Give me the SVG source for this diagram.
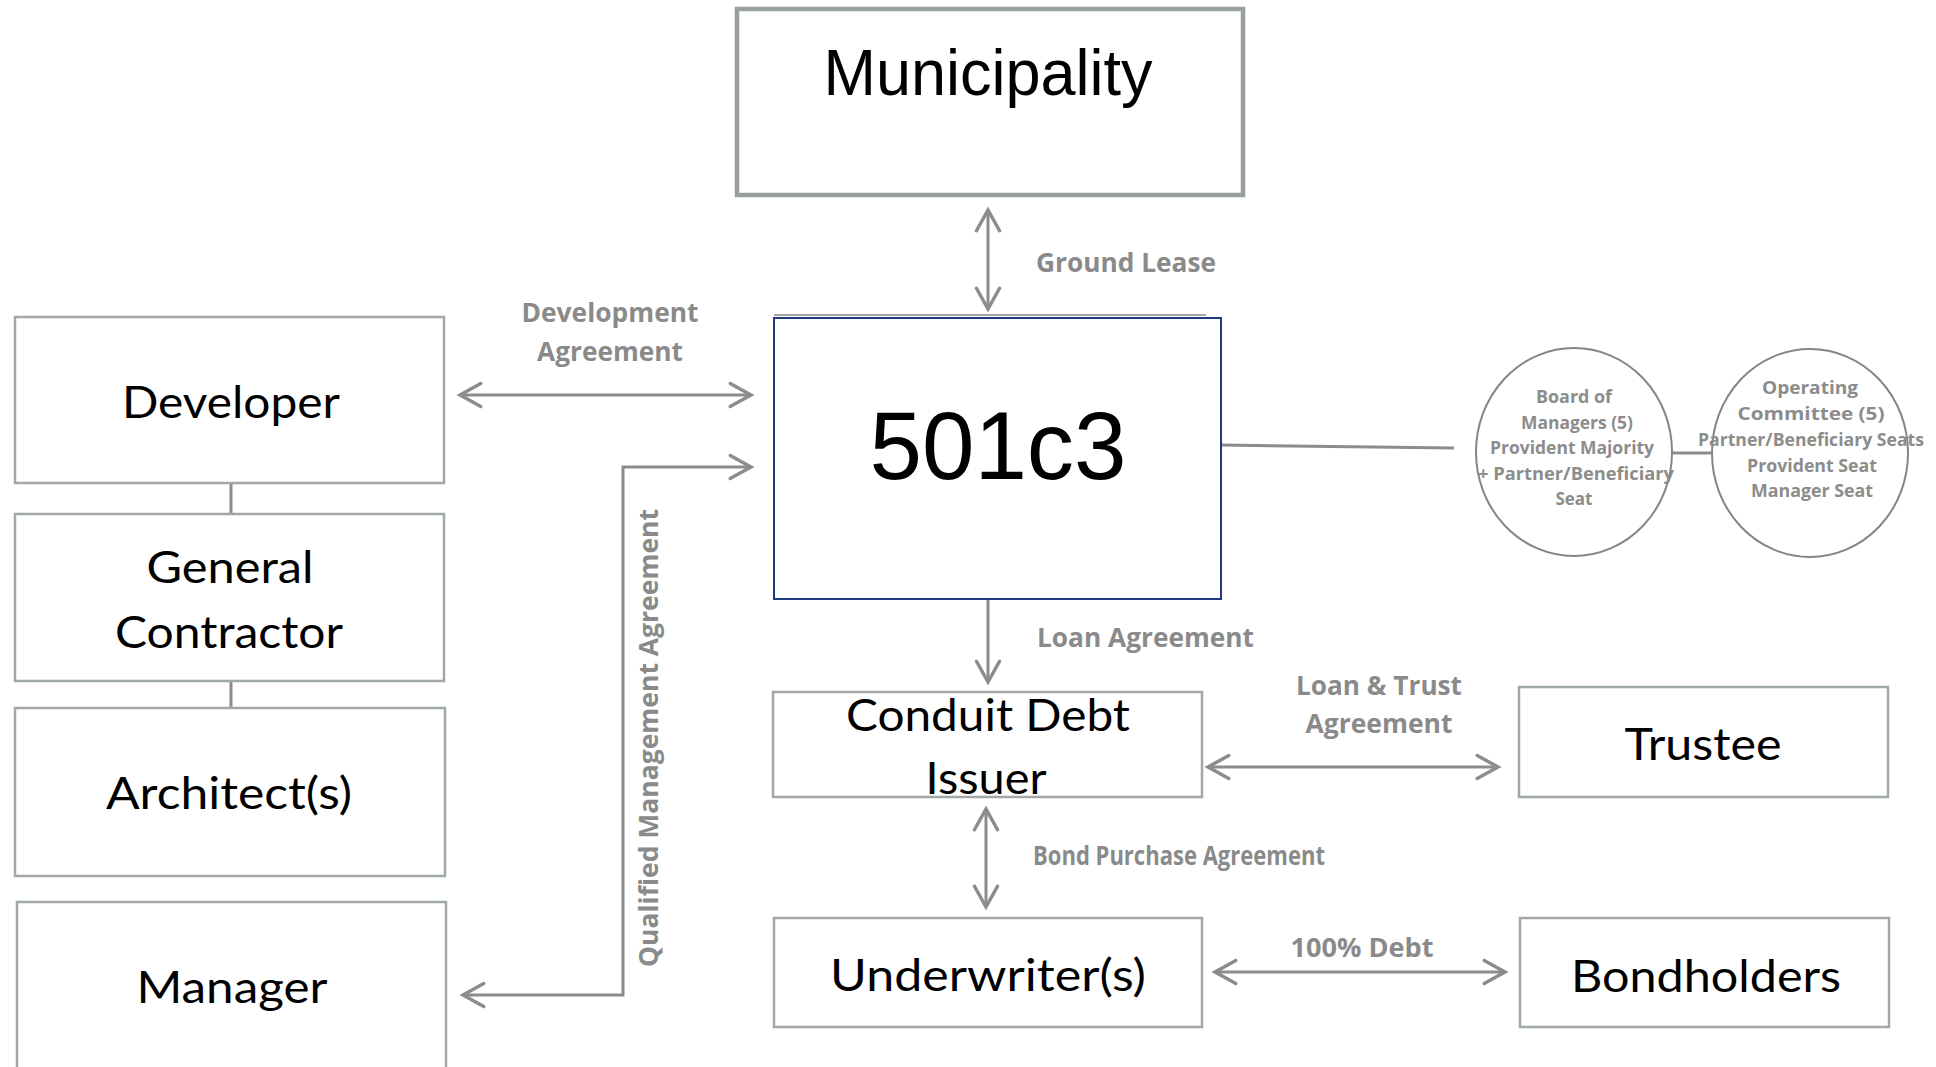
<svg xmlns="http://www.w3.org/2000/svg" width="1936" height="1067" viewBox="0 0 1936 1067">
<style>
.box{fill:#ffffff;stroke:#a0a8a8;stroke-width:2.5}
.nt{font-family:Lato,"Liberation Sans",sans-serif;font-size:44px;fill:#000;text-anchor:middle}
.big{font-family:"Liberation Sans",Arial,sans-serif;fill:#000;text-anchor:middle}
.lbl{font-family:"Open Sans",Lato,sans-serif;font-weight:bold;font-size:27.5px;fill:#8a8a8a}
.ct{font-family:"Open Sans",Lato,sans-serif;font-weight:bold;font-size:17.5px;fill:#8c8c8c;text-anchor:middle}
.arr{fill:none;stroke:#8c8c8c;stroke-width:3}
.ln{fill:none;stroke:#8c8c8c;stroke-width:3}
.circ{fill:#ffffff;stroke:#858585;stroke-width:2}
</style>
<defs>
<marker id="ah" markerUnits="userSpaceOnUse" markerWidth="30" markerHeight="30" viewBox="-22 -13 26 26" refX="0" refY="0" orient="auto-start-reverse">
<path d="M-18,-10 L0,0 L-18,10" fill="none" stroke="#8c8c8c" stroke-width="3" stroke-linecap="round" stroke-linejoin="miter"/>
</marker>
</defs>
<rect width="1936" height="1067" fill="#ffffff"/>

<g id="connectors">
<path class="arr" d="M988,210 L988,309" marker-start="url(#ah)" marker-end="url(#ah)"/>
<path class="arr" d="M460,395 L751,395" marker-start="url(#ah)" marker-end="url(#ah)"/>
<path class="arr" d="M751,467 L623,467 L623,995 L463,995" marker-start="url(#ah)" marker-end="url(#ah)"/>
<path class="arr" d="M988,600 L988,682" marker-end="url(#ah)"/>
<path class="arr" d="M1208,767 L1498,767" marker-start="url(#ah)" marker-end="url(#ah)"/>
<path class="arr" d="M986,809 L986,907" marker-start="url(#ah)" marker-end="url(#ah)"/>
<path class="arr" d="M1215,972 L1505,972" marker-start="url(#ah)" marker-end="url(#ah)"/>
<path class="ln" d="M231,483 L231,514"/>
<path class="ln" d="M231,681 L231,708"/>
<path class="ln" d="M1221,445 L1454,448"/>
<path class="ln" d="M1672,453 L1712,453" stroke-width="4"/>
<text class="lbl" x="1036" y="272" textLength="180" lengthAdjust="spacingAndGlyphs">Ground Lease</text>
<text class="lbl" x="610" y="322" text-anchor="middle" textLength="177" lengthAdjust="spacingAndGlyphs">Development</text>
<text class="lbl" x="610" y="361" text-anchor="middle" textLength="146" lengthAdjust="spacingAndGlyphs">Agreement</text>
<text class="lbl" transform="translate(658,738) rotate(-90)" x="0" y="0" text-anchor="middle" textLength="458" lengthAdjust="spacingAndGlyphs">Qualified Management Agreement</text>
<text class="lbl" x="1037" y="647" textLength="217" lengthAdjust="spacingAndGlyphs">Loan Agreement</text>
<text class="lbl" x="1379" y="695" text-anchor="middle" textLength="166" lengthAdjust="spacingAndGlyphs">Loan &amp; Trust</text>
<text class="lbl" x="1379" y="733" text-anchor="middle" textLength="147" lengthAdjust="spacingAndGlyphs">Agreement</text>
<text class="lbl" x="1033" y="865" font-size="21" textLength="292" lengthAdjust="spacingAndGlyphs">Bond Purchase Agreement</text>
<text class="lbl" x="1362" y="957" text-anchor="middle" textLength="143" lengthAdjust="spacingAndGlyphs">100% Debt</text>
</g>

<g id="municipality">
<rect x="737" y="9" width="506" height="186" fill="#ffffff" stroke="#989f9f" stroke-width="4.5"/>
<text class="big" x="988" y="95" font-size="64" textLength="329" lengthAdjust="spacingAndGlyphs">Municipality</text>
</g>

<g id="n501c3">
<line x1="774" y1="315" x2="1206" y2="315" stroke="#a0a8a8" stroke-width="2"/>
<rect x="774" y="318" width="447" height="281" fill="#ffffff" stroke="#1f3a7e" stroke-width="2"/>
<text class="big" x="998" y="479" font-size="97" textLength="257" lengthAdjust="spacingAndGlyphs">501c3</text>
</g>

<g id="developer">
<rect class="box" x="15" y="317" width="429" height="166"/>
<text class="nt" x="231" y="418" textLength="218" lengthAdjust="spacingAndGlyphs">Developer</text>
</g>

<g id="general-contractor">
<rect class="box" x="15" y="514" width="429" height="167"/>
<text class="nt" x="230" y="583" textLength="167" lengthAdjust="spacingAndGlyphs">General</text>
<text class="nt" x="229" y="648" textLength="228" lengthAdjust="spacingAndGlyphs">Contractor</text>
</g>

<g id="architects">
<rect class="box" x="15" y="708" width="430" height="168"/>
<text class="nt" x="229" y="809" textLength="246" lengthAdjust="spacingAndGlyphs">Architect(s)</text>
</g>

<g id="manager">
<rect class="box" x="17" y="902" width="429" height="190"/>
<text class="nt" x="232" y="1003" textLength="191" lengthAdjust="spacingAndGlyphs">Manager</text>
</g>

<g id="conduit-debt-issuer">
<rect class="box" x="773" y="692" width="429" height="105"/>
<text class="nt" x="988" y="731" textLength="284" lengthAdjust="spacingAndGlyphs">Conduit Debt</text>
<text class="nt" x="986" y="794" textLength="121" lengthAdjust="spacingAndGlyphs">Issuer</text>
</g>

<g id="trustee">
<rect class="box" x="1519" y="687" width="369" height="110"/>
<text class="nt" x="1703" y="760" textLength="157" lengthAdjust="spacingAndGlyphs">Trustee</text>
</g>

<g id="underwriters">
<rect class="box" x="774" y="918" width="428" height="109"/>
<text class="nt" x="988" y="991" textLength="316" lengthAdjust="spacingAndGlyphs">Underwriter(s)</text>
</g>

<g id="bondholders">
<rect class="box" x="1520" y="918" width="369" height="109"/>
<text class="nt" x="1706" y="992" textLength="270" lengthAdjust="spacingAndGlyphs">Bondholders</text>
</g>

<g id="board-of-managers">
<ellipse class="circ" cx="1574" cy="452" rx="98" ry="104"/>
<text class="ct" x="1574" y="403" textLength="76" lengthAdjust="spacingAndGlyphs">Board of</text>
<text class="ct" x="1577" y="429" textLength="112" lengthAdjust="spacingAndGlyphs">Managers (5)</text>
<text class="ct" x="1572" y="454" textLength="164" lengthAdjust="spacingAndGlyphs">Provident Majority</text>
<text class="ct" x="1576" y="480" textLength="196" lengthAdjust="spacingAndGlyphs">+ Partner/Beneficiary</text>
<text class="ct" x="1574" y="505" textLength="37" lengthAdjust="spacingAndGlyphs">Seat</text>
</g>

<g id="operating-committee">
<ellipse class="circ" cx="1810" cy="453" rx="98" ry="104"/>
<text class="ct" x="1810" y="394" textLength="96" lengthAdjust="spacingAndGlyphs">Operating</text>
<text class="ct" x="1811" y="420" textLength="147" lengthAdjust="spacingAndGlyphs">Committee (5)</text>
<text class="ct" x="1811" y="446" textLength="226" lengthAdjust="spacingAndGlyphs">Partner/Beneficiary Seats</text>
<text class="ct" x="1812" y="472" textLength="130" lengthAdjust="spacingAndGlyphs">Provident Seat</text>
<text class="ct" x="1812" y="497" textLength="122" lengthAdjust="spacingAndGlyphs">Manager Seat</text>
</g>
</svg>
